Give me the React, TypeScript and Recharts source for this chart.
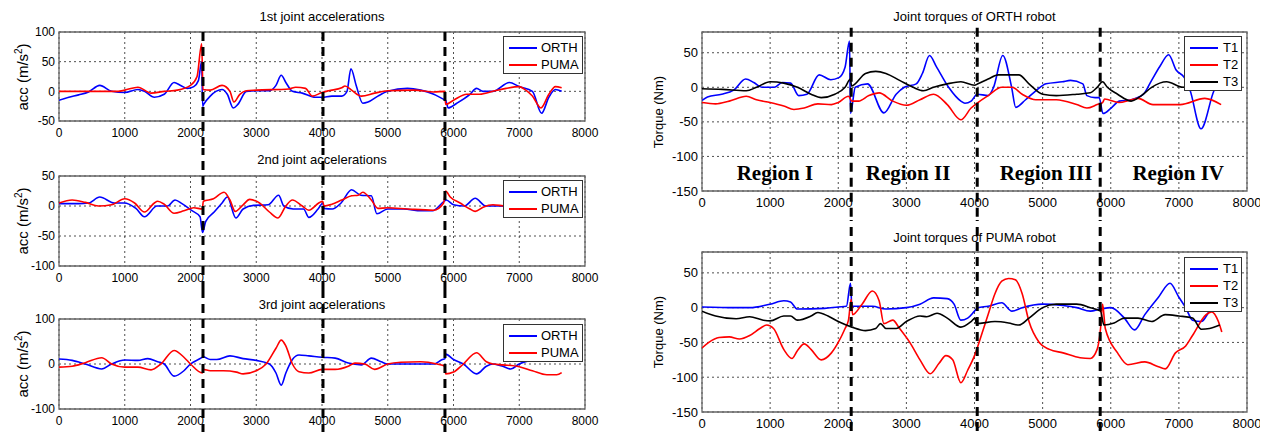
import {
  LineChart,
  Line,
  XAxis,
  YAxis,
  CartesianGrid,
  ReferenceLine,
  ReferenceArea,
  ReferenceDot,
} from "recharts";

type Pt = [number, number];

const FONT = "'Liberation Sans', Arial, sans-serif";

const X_TICKS = [0, 1000, 2000, 3000, 4000, 5000, 6000, 7000, 8000];
const ACC1_TICKS = [-50, 0, 50, 100];
const ACC2_TICKS = [-100, -50, 0, 50];
const ACC3_TICKS = [-100, 0, 100];
const TQ_TICKS = [-150, -100, -50, 0, 50];

// region borders (hand-drawn dashed lines)
const LEFT_BORDERS = [2190, 4015, 5870];
const RIGHT_BORDERS = [2190, 4040, 5845];

const REGION_NAMES = ["Region I", "Region II", "Region III", "Region IV"];
const REGION_X = [1070, 3025, 5050, 6990];
const REGION_Y = -124;

// 1st joint accelerations
const ACC1_ORTH: Pt[] = [
  [0, -15], [150, -10], [300, -6], [450, -1], [620, 10], [800, 0], [1000, -2], [1200, 3],
  [1300, 0], [1450, -10], [1600, -5], [1750, 15], [1850, 10], [1950, 5], [2050, 8], [2120, 18],
  [2170, 50], [2185, -25], [2200, -22], [2300, -8], [2480, 3], [2560, -5], [2650, -28], [2720, -22],
  [2850, 0], [3000, 1], [3200, 1], [3300, 10], [3380, 27], [3450, 15], [3550, 0], [3700, -3],
  [3900, -10], [4000, -10], [4150, -8], [4300, -8], [4380, 0], [4440, 38], [4520, 10], [4620, -20],
  [4700, -18], [4850, -8], [5000, 0], [5300, 5], [5500, 2], [5700, -5], [5860, -14], [5880, -15],
  [5920, -28], [6050, -20], [6250, -5], [6350, 5], [6450, 0], [6600, 0], [6850, 15], [7000, 8],
  [7200, 0], [7340, -37], [7450, -10], [7550, 3], [7645, 0],
];
const ACC1_PUMA: Pt[] = [
  [0, 0], [900, 0], [1000, 2], [1200, 7], [1400, -3], [1600, 0], [1800, 2], [2000, 10],
  [2100, 25], [2170, 80], [2190, 3], [2300, 2], [2480, 10], [2600, 0], [2660, -18], [2750, -5],
  [2850, 1], [3000, 2], [3500, 4], [3600, 7], [3750, 5], [3850, -8], [4000, -2], [4100, 1],
  [4300, 6], [4350, 9], [4450, 2], [4600, -8], [4800, -3], [5000, 1], [5400, 2], [5700, -1],
  [5865, 0], [5880, -22], [6000, -15], [6200, -5], [6400, -5], [6600, 0], [6800, 5], [7000, 8],
  [7100, 2], [7200, -8], [7330, -28], [7450, -5], [7550, 8], [7645, 6],
];

// 2nd joint accelerations
const ACC2_ORTH: Pt[] = [
  [0, 4], [300, 4], [450, 5], [620, 15], [840, 5], [990, 5], [1170, -4], [1300, -18],
  [1490, 0], [1650, 0], [1765, 10], [1870, 4], [2010, -7], [2145, -18], [2183, -44], [2230, -26],
  [2360, -10], [2480, 5], [2560, 15], [2690, -20], [2800, -5], [2960, 1], [3180, 2], [3340, 18],
  [3420, 0], [3560, -5], [3720, -5], [3800, -19], [3940, -5], [4015, 5], [4030, -4], [4155, -5],
  [4290, 5], [4450, 27], [4590, 18], [4750, 17], [4835, -13], [5000, -5], [5240, -5], [5510, -8],
  [5680, -8], [5860, 8], [5890, 10], [6000, 2], [6165, 0], [6330, 13], [6490, 0], [6700, 0],
  [6980, -3], [7300, -2], [7645, 0],
];
const ACC2_PUMA: Pt[] = [
  [0, 5], [200, 10], [400, 6], [600, 0], [800, 2], [1000, 12], [1150, 5], [1300, -10],
  [1450, 5], [1500, 8], [1600, 3], [1750, -12], [1900, -8], [2050, -3], [2180, -5], [2195, 8],
  [2350, 12], [2510, 23], [2600, 10], [2680, -9], [2800, 2], [2900, 11], [3050, 5], [3200, -10],
  [3330, -20], [3450, 0], [3550, 10], [3700, 0], [3800, -7], [3950, 5], [4010, 8], [4030, 0],
  [4150, 3], [4300, 10], [4450, 17], [4550, 18], [4620, 23], [4750, 10], [4850, -4], [5000, -3],
  [5300, -5], [5700, -7], [5850, 5], [5880, 25], [5950, 15], [6100, 5], [6250, -5], [6330, -9],
  [6450, -2], [6600, 2], [6800, 0], [7200, 0], [7645, 0],
];

// 3rd joint accelerations
const ACC3_ORTH: Pt[] = [
  [0, 11], [200, 8], [400, 0], [650, -11], [800, 0], [1000, 9], [1200, 8], [1350, 12],
  [1500, 5], [1600, 0], [1750, -27], [1900, -15], [2000, 0], [2170, 14], [2190, 16], [2300, 10],
  [2400, 10], [2600, 18], [2800, 12], [3000, 8], [3200, 0], [3300, -20], [3380, -47], [3450, -20],
  [3550, 10], [3650, 20], [3800, 18], [4000, 15], [4200, 13], [4400, 2], [4600, -2], [4750, 13],
  [4900, 5], [5000, 0], [5500, 0], [5700, 0], [5830, 10], [5870, 12], [5880, 22], [6000, 10],
  [6150, 0], [6350, -22], [6500, -5], [6600, 0], [6750, -5], [6870, -11], [7000, 0], [7200, 8],
  [7645, 8],
];
const ACC3_PUMA: Pt[] = [
  [0, -7], [200, -5], [400, 3], [650, 14], [800, 0], [1000, -7], [1200, -7], [1400, -13],
  [1550, 0], [1750, 30], [1900, 15], [2000, 0], [2180, -20], [2190, -12], [2300, -15], [2500, -15],
  [2700, -18], [2800, -22], [3000, -15], [3150, 0], [3300, 35], [3380, 53], [3450, 40], [3550, 0],
  [3650, -17], [3800, -20], [4000, -12], [4200, -12], [4400, -5], [4500, 2], [4650, 0], [4800, -12],
  [5000, 0], [5200, 4], [5500, 5], [5750, 0], [5870, -5], [5880, -22], [6000, -18], [6150, 0],
  [6350, 25], [6500, 5], [6600, 0], [6750, -2], [7000, -6], [7200, -15], [7420, -24], [7570, -24],
  [7645, -19],
];

// joint torques of ORTH robot
const ORTH_T1: Pt[] = [
  [0, -19], [80, -14], [290, -10], [465, -4], [640, 12], [760, 7], [880, 0], [1060, 0],
  [1180, 7], [1300, 6], [1420, -12], [1540, -10], [1720, 18], [1890, 11], [2010, 14], [2100, 29],
  [2165, 67], [2180, -38], [2250, 0], [2430, 5], [2670, -37], [2850, -10], [2970, 0], [3145, 5],
  [3235, 20], [3340, 46], [3440, 30], [3620, 0], [3800, -20], [3860, -23], [3950, -20], [4040, -10],
  [4200, -12], [4280, 0], [4415, 46], [4545, 0], [4605, -29], [4750, -18], [4900, -5], [5050, 5],
  [5290, 8], [5410, 10], [5590, 5], [5650, -12], [5770, -15], [5830, -15], [5886, -38], [6005, -30],
  [6125, -20], [6300, -18], [6480, -10], [6600, 10], [6720, 30], [6850, 47], [6960, 25], [7080, 14],
  [7163, -4], [7325, -60], [7515, -5], [7600, 10],
];
const ORTH_T2: Pt[] = [
  [0, -22], [200, -24], [400, -20], [650, -13], [800, -18], [1000, -22], [1200, -27], [1350, -32],
  [1500, -30], [1700, -24], [1900, -25], [2000, -22], [2150, -13], [2200, -20], [2300, -20], [2450, -12],
  [2600, -8], [2800, -20], [3000, -26], [3200, -18], [3400, -10], [3600, -25], [3800, -47], [3950, -30],
  [4050, -22], [4200, -12], [4400, 0], [4550, 0], [4700, -10], [4900, -18], [5200, -18], [5500, -25],
  [5650, -30], [5800, -25], [5880, -22], [5910, -17], [6120, -22], [6300, -18], [6400, -16], [6620, -25],
  [7020, -25], [7380, -16], [7620, -25],
];
const ORTH_T3: Pt[] = [
  [0, -2], [300, -3], [650, -5], [800, 0], [1000, 8], [1200, 6], [1400, 0], [1600, -10],
  [1750, -15], [1950, -10], [2100, 0], [2180, 12], [2195, 2], [2400, 20], [2550, 23], [2700, 20],
  [2900, 10], [3100, 0], [3250, -5], [3400, 0], [3600, 5], [3800, 8], [4000, 3], [4050, 5],
  [4200, 12], [4350, 18], [4600, 18], [4650, 18], [4800, 5], [5000, -10], [5200, -12], [5500, -10],
  [5700, -8], [5800, 0], [5880, 8], [5950, 0], [6100, -10], [6300, -20], [6450, -12], [6600, 0],
  [6820, 8], [7060, 0], [7300, 2], [7600, 2],
];

// joint torques of PUMA robot
const PUMA_T1: Pt[] = [
  [0, 1], [500, 0], [700, 0], [1000, 5], [1200, 10], [1300, 8], [1400, -2], [1800, -1],
  [2000, 1], [2120, 2], [2180, 35], [2200, 2], [2300, 2], [2500, 2], [2700, -2], [3000, 0],
  [3200, 5], [3400, 14], [3600, 13], [3700, 5], [3800, -18], [3900, -15], [4000, -5], [4050, 0],
  [4200, 2], [4400, 7], [4550, -5], [4700, 0], [5000, 5], [5300, 3], [5500, 0], [5700, -5],
  [5850, -2], [6000, 0], [6200, -15], [6350, -32], [6500, -10], [6700, 15], [6870, 35], [7000, 15],
  [7100, 0], [7200, -18], [7330, -20], [7450, -5], [7500, 0],
];
const PUMA_T2: Pt[] = [
  [0, -58], [100, -50], [250, -43], [400, -42], [550, -45], [700, -40], [850, -30], [950, -25],
  [1050, -30], [1200, -60], [1320, -73], [1400, -62], [1500, -52], [1600, -60], [1750, -75], [1900, -65],
  [2000, -50], [2100, -30], [2150, -18], [2190, 12], [2210, -10], [2350, 5], [2500, 24], [2600, 10],
  [2670, -23], [2800, -18], [2900, -30], [3050, -50], [3200, -75], [3350, -95], [3480, -80], [3580, -69],
  [3680, -75], [3800, -108], [3900, -90], [4000, -69], [4100, -40], [4200, -10], [4300, 20], [4400, 38],
  [4500, 42], [4600, 40], [4700, 20], [4800, -20], [4950, -50], [5100, -60], [5300, -65], [5550, -72],
  [5700, -73], [5800, -60], [5850, -30], [5880, 5], [5920, -30], [6100, -65], [6250, -82], [6500, -78],
  [6700, -85], [6800, -88], [6950, -65], [7100, -55], [7200, -40], [7400, -10], [7480, -6], [7580, -20],
  [7630, -35],
];
const PUMA_T3: Pt[] = [
  [0, -5], [200, -12], [500, -16], [700, -13], [900, -18], [1000, -19], [1200, -12], [1300, -12],
  [1400, -18], [1600, -12], [1700, -7], [1850, -12], [2000, -20], [2200, -28], [2400, -33], [2550, -30],
  [2620, -23], [2700, -30], [2850, -30], [3000, -20], [3200, -12], [3300, -13], [3450, -8], [3600, -15],
  [3800, -28], [3950, -20], [4010, -15], [4025, -23], [4300, -20], [4500, -22], [4650, -25], [4800, -15],
  [5000, 0], [5200, 5], [5500, 5], [5700, 0], [5850, -5], [5900, -25], [6050, -22], [6200, -15],
  [6400, -15], [6600, -20], [6800, -10], [7000, -12], [7200, -15], [7330, -31], [7450, -30], [7600, -25],
];

const rows = (pts: Pt[]) => pts.map(([x, y]) => ({ x, y }));

interface Series {
  name: string;
  color: string;
  points: Pt[];
}

interface PanelProps {
  left: number;
  top: number;
  width: number;
  height: number;
  marginTop: number;
  marginRight: number;
  yAxisWidth: number;
  xAxisHeight: number;
  yDomain: [number, number];
  yTicks: number[];
  fontSize: number;
  title: string;
  titleY: number;
  yLabel: React.ReactNode;
  yLabelX: number;
  yLabelSize: number;
  series: Series[];
  borders: number[];
  dashTop: number;
  legend: { left: number; top: number; width: number; rowH: number; textLeft: number };
  regions?: boolean;
}

function Panel(p: PanelProps) {
  const plotLeft = p.yAxisWidth;
  const plotWidth = p.width - p.yAxisWidth - p.marginRight;
  const plotBottom = p.height - p.xAxisHeight;
  const plotMid = (p.marginTop + plotBottom) / 2;
  return (
    <div
      style={{
        position: "absolute",
        left: p.left,
        top: p.top,
        width: p.width,
        height: p.height,
        overflow: "hidden",
        fontFamily: FONT,
      }}
    >
      <LineChart
        width={p.width}
        height={p.height}
        margin={{ top: p.marginTop, right: p.marginRight, bottom: 0, left: 0 }}
      >
        <CartesianGrid stroke="#222" strokeDasharray="2 3" strokeWidth={0.8} />
        <XAxis
          dataKey="x"
          type="number"
          domain={[0, 8000]}
          ticks={X_TICKS}
          height={p.xAxisHeight}
          axisLine={false}
          tickLine={false}
          tickSize={4}
          tickMargin={3}
          tick={{ fontSize: p.fontSize, fill: "#000", fontFamily: FONT }}
          allowDataOverflow
        />
        <YAxis
          type="number"
          domain={p.yDomain}
          ticks={p.yTicks}
          width={p.yAxisWidth}
          axisLine={false}
          tickLine={false}
          tickSize={2}
          tickMargin={2}
          interval={0}
          tick={{ fontSize: p.fontSize, fill: "#000", fontFamily: FONT }}
          allowDataOverflow
        />
        <ReferenceArea
          x1={0}
          x2={8000}
          y1={p.yDomain[0]}
          y2={p.yDomain[1]}
          fill="none"
          stroke="#666"
          strokeWidth={1.3}
          fillOpacity={0}
        />
        {p.series.map((s) => (
          <Line
            key={s.name}
            data={rows(s.points)}
            dataKey="y"
            name={s.name}
            type="monotoneX"
            stroke={s.color}
            strokeWidth={1.6}
            dot={false}
            isAnimationActive={false}
          />
        ))}
        {p.regions &&
          REGION_NAMES.map((r, i) => (
            <ReferenceDot
              key={r}
              x={REGION_X[i]}
              y={REGION_Y}
              r={1}
              fill="none"
              stroke="none"
              label={{
                value: r,
                position: "center",
                fontSize: 21,
                fontWeight: "bold",
                fontFamily: "'Liberation Serif', 'Times New Roman', serif",
                fill: "#000",
              }}
            />
          ))}
        {p.borders.map((bx) => (
          <ReferenceLine
            key={bx}
            segment={[
              { x: bx, y: p.dashTop },
              { x: bx, y: -1000 },
            ]}
            stroke="#000"
            strokeWidth={3}
            strokeDasharray="9 6"
            ifOverflow="visible"
          />
        ))}
      </LineChart>

      <div
        style={{
          position: "absolute",
          left: plotLeft,
          width: plotWidth,
          top: p.titleY - 8,
          lineHeight: "16px",
          textAlign: "center",
          fontSize: 13,
          color: "#000",
        }}
      >
        {p.title}
      </div>

      <div
        style={{
          position: "absolute",
          left: p.yLabelX,
          top: plotMid,
          transform: "translate(-50%, -50%) rotate(-90deg)",
          whiteSpace: "nowrap",
          fontSize: p.yLabelSize,
          color: "#000",
        }}
      >
        {p.yLabel}
      </div>

      <div
        style={{
          position: "absolute",
          left: p.legend.left,
          top: p.legend.top,
          width: p.legend.width,
          height: p.legend.rowH * p.series.length + 4,
          background: "#fff",
          border: "1px solid #333",
          boxSizing: "border-box",
          fontSize: 13,
          color: "#000",
        }}
      >
        {p.series.map((s, i) => (
          <div
            key={s.name}
            style={{ position: "absolute", left: 0, top: 2 + i * p.legend.rowH, height: p.legend.rowH, width: "100%" }}
          >
            <div
              style={{
                position: "absolute",
                left: 5,
                width: 28,
                top: p.legend.rowH / 2 - 1,
                height: 2,
                background: s.color,
              }}
            />
            <div
              style={{
                position: "absolute",
                left: p.legend.textLeft,
                top: 0,
                lineHeight: `${p.legend.rowH}px`,
              }}
            >
              {s.name}
            </div>
          </div>
        ))}
      </div>
    </div>
  );
}

const accLabel = (
  <span>
    acc (m/s<sup style={{ fontSize: 10 }}>2</sup>)
  </span>
);

const leftCommon = {
  left: 0,
  width: 600,
  marginRight: 15,
  yAxisWidth: 59,
  fontSize: 12,
  yLabel: accLabel,
  yLabelX: 22,
  yLabelSize: 15,
  borders: LEFT_BORDERS,
  legend: { left: 503, top: 0, width: 80, rowH: 17, textLeft: 37 },
};

const rightCommon = {
  left: 640,
  width: 620,
  marginRight: 13,
  yAxisWidth: 62,
  fontSize: 13,
  yLabel: "Torque (Nm)",
  yLabelX: 18,
  yLabelSize: 13,
  yDomain: [-150, 80] as [number, number],
  yTicks: TQ_TICKS,
  borders: RIGHT_BORDERS,
};

export default function App() {
  const acc = (orth: Pt[], puma: Pt[]): Series[] => [
    { name: "ORTH", color: "#0000ff", points: orth },
    { name: "PUMA", color: "#ff0000", points: puma },
  ];
  const tq = (t1: Pt[], t2: Pt[], t3: Pt[]): Series[] => [
    { name: "T1", color: "#0000ff", points: t1 },
    { name: "T2", color: "#ff0000", points: t2 },
    { name: "T3", color: "#000000", points: t3 },
  ];
  return (
    <div style={{ position: "absolute", left: 0, top: 0, width: 1279, height: 432, background: "#fff" }}>
      <Panel
        {...leftCommon}
        top={0}
        height={148}
        marginTop={32}
        xAxisHeight={27}
        yDomain={[-50, 100]}
        yTicks={ACC1_TICKS}
        title="1st joint accelerations"
        titleY={17}
        series={acc(ACC1_ORTH, ACC1_PUMA)}
        dashTop={100}
        legend={{ ...leftCommon.legend, top: 36 }}
      />
      <Panel
        {...leftCommon}
        top={148}
        height={142}
        marginTop={28}
        xAxisHeight={24}
        yDomain={[-100, 50]}
        yTicks={ACC2_TICKS}
        title="2nd joint accelerations"
        titleY={12}
        series={acc(ACC2_ORTH, ACC2_PUMA)}
        dashTop={1000}
        legend={{ ...leftCommon.legend, top: 32 }}
      />
      <Panel
        {...leftCommon}
        top={290}
        height={142}
        marginTop={29}
        xAxisHeight={23}
        yDomain={[-100, 100]}
        yTicks={ACC3_TICKS}
        title="3rd joint accelerations"
        titleY={15}
        series={acc(ACC3_ORTH, ACC3_PUMA)}
        dashTop={1000}
        legend={{ ...leftCommon.legend, top: 34 }}
      />
      <Panel
        {...rightCommon}
        top={0}
        height={220}
        marginTop={32}
        xAxisHeight={29}
        title="Joint torques of ORTH robot"
        titleY={17}
        series={tq(ORTH_T1, ORTH_T2, ORTH_T3)}
        dashTop={86}
        legend={{ left: 544, top: 36, width: 58, rowH: 17, textLeft: 38 }}
        regions
      />
      <Panel
        {...rightCommon}
        top={220}
        height={212}
        marginTop={32}
        xAxisHeight={20}
        title="Joint torques of PUMA robot"
        titleY={18}
        series={tq(PUMA_T1, PUMA_T2, PUMA_T3)}
        dashTop={1000}
        legend={{ left: 544, top: 37, width: 58, rowH: 17, textLeft: 38 }}
      />
    </div>
  );
}
